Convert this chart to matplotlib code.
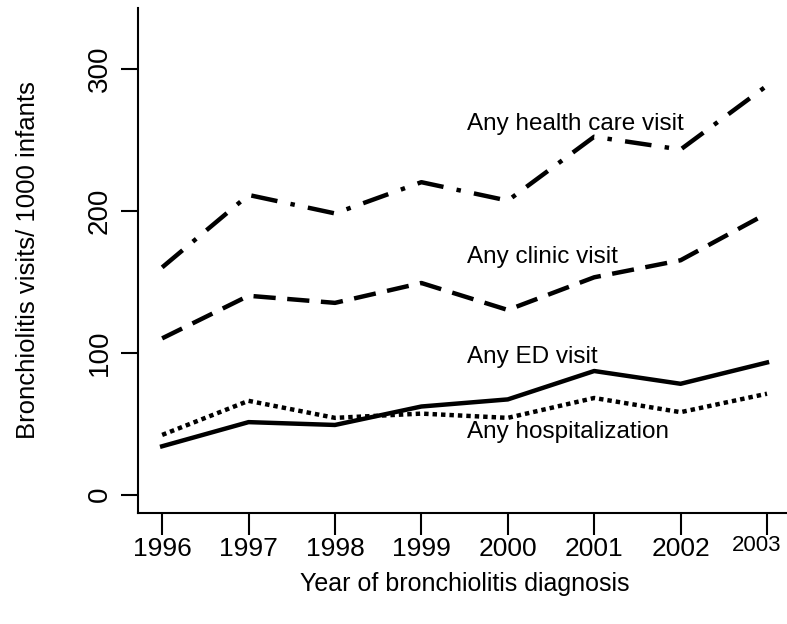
import matplotlib
matplotlib.use("Agg")
import matplotlib.pyplot as plt
import matplotlib.transforms as mtransforms

years = [1996, 1997, 1998, 1999, 2000, 2001, 2002, 2003]
health_care = [160, 211, 198, 220, 207, 252, 243, 288]
clinic = [110, 140, 135, 149, 130, 153, 165, 198]
ed = [34, 51, 49, 62, 67, 87, 78, 93]
hosp = [42, 66, 54, 57, 54, 68, 58, 71]
yticks = [0, 100, 200, 300]

plt.rcParams['font.family'] = ['Liberation Sans', 'DejaVu Sans']

fig = plt.figure(figsize=(7.87, 6.24), dpi=100)
ax = fig.add_axes([0.1753, 0.1779, 0.83, 0.81])

lw = 3.2
ax.plot(years, health_care, color='black', lw=lw, dashes=(6, 3, 1, 3))
ax.plot(years, clinic, color='black', lw=lw, dashes=(5, 2.6))
ax.plot(years, ed, color='black', lw=lw)
ax.plot(years, hosp, color='black', lw=lw, dashes=(1, 0.9))

ax.set_xlim(1995.72, 2003.28)
ax.set_ylim(-13, 343)
ax.spines['top'].set_visible(False)
ax.spines['right'].set_visible(False)
ax.spines['left'].set_linewidth(1.5)
ax.spines['bottom'].set_linewidth(1.5)

ax.set_xticks(years)
ax.set_xticklabels([str(y) for y in years], fontsize=19)
ax.set_yticks(yticks)
ax.set_yticklabels([str(v) for v in yticks], fontsize=20, rotation=90, va='center')
ax.tick_params(axis='x', length=16, width=1.5, pad=1, direction='out')
ax.tick_params(axis='y', length=12, width=1.5, pad=6, direction='out')

last = ax.get_xticklabels()[-1]
last.set_fontsize(16)
last.set_transform(last.get_transform() + mtransforms.ScaledTranslation(-10 / 100, 2 / 100, fig.dpi_scale_trans))

ts = 17.5
ax.text(1999.53, 261, 'Any health care visit', fontsize=ts, va='center', ha='left')
ax.text(1999.53, 167, 'Any clinic visit', fontsize=ts, va='center', ha='left')
ax.text(1999.53, 97, 'Any ED visit', fontsize=ts, va='center', ha='left')
ax.text(1999.53, 44, 'Any hospitalization', fontsize=ts, va='center', ha='left')

ax.set_xlabel('Year of bronchiolitis diagnosis', fontsize=18, labelpad=8)
ax.set_ylabel('Bronchiolitis visits/ 1000 infants', fontsize=18.5, labelpad=34)

fig.savefig('out.png', dpi=100)
